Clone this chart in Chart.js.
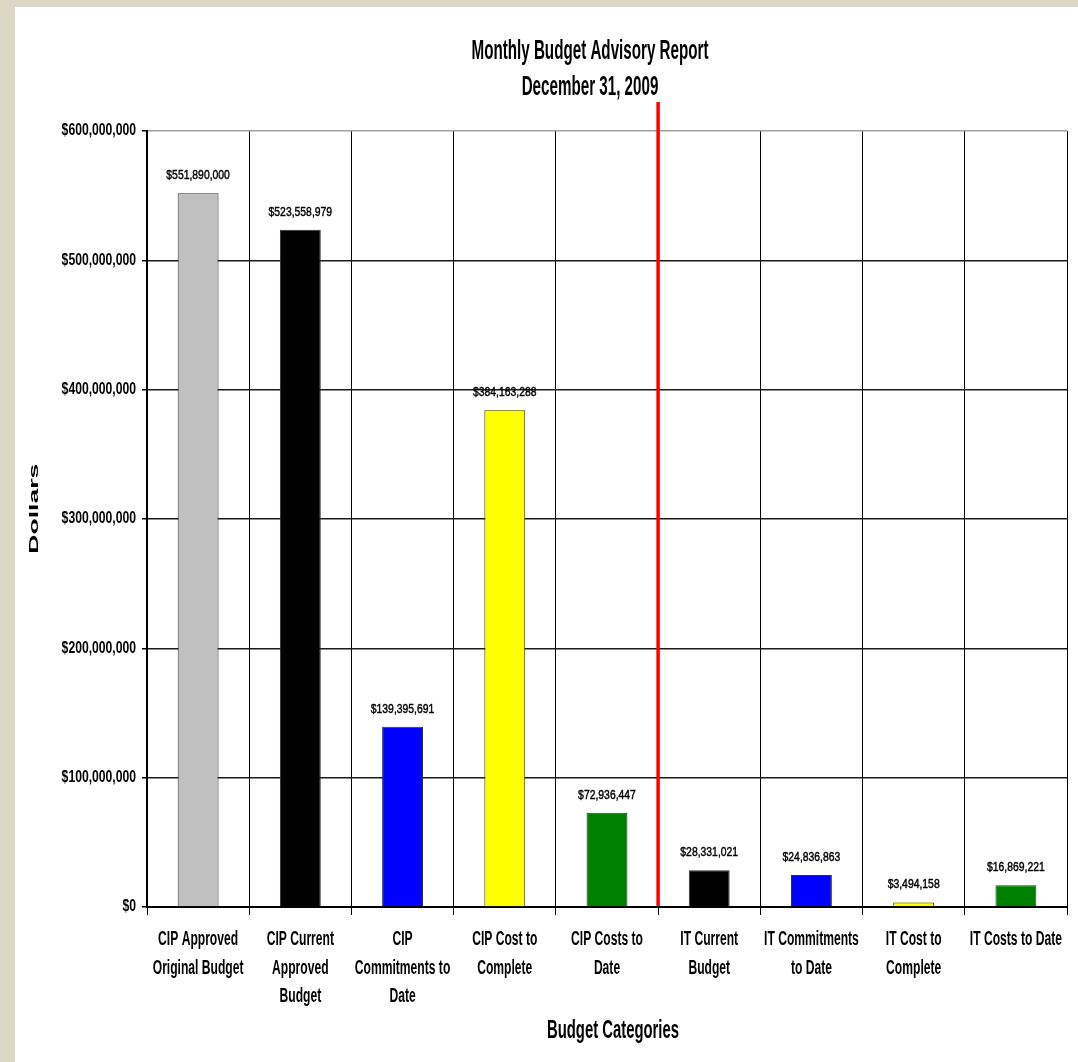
<!DOCTYPE html>
<html>
<head>
<meta charset="utf-8">
<script src="https://cdn.jsdelivr.net/npm/chart.js@4.4.0/dist/chart.umd.min.js"></script>
<style>
html,body{margin:0;padding:0;background:#dfd7c5;width:1078px;height:1062px;overflow:hidden}
#wrap{position:absolute;left:15px;top:7px;width:1063px;height:1055px;background:#ffffff}
</style>
</head>
<body>
<div id="wrap"><canvas id="c"></canvas></div>
<script>
// ---- data ----
const categories = [
  ["CIP Approved", "Original Budget"],
  ["CIP Current", "Approved", "Budget"],
  ["CIP", "Commitments to", "Date"],
  ["CIP Cost to", "Complete"],
  ["CIP Costs to", "Date"],
  ["IT Current", "Budget"],
  ["IT Commitments", "to Date"],
  ["IT Cost to", "Complete"],
  ["IT Costs to Date"]
];
const values = [551890000, 523558979, 139395691, 384163288, 72936447, 28331021, 24836863, 3494158, 16869221];
const barColors = ["#c0c0c0", "#000000", "#0000ff", "#ffff00", "#008000", "#000000", "#0000ff", "#ffff00", "#008000"];
const yTickValues = [0, 100000000, 200000000, 300000000, 400000000, 500000000, 600000000];
const chartTitle = ["Monthly Budget Advisory Report", "December 31, 2009"];
const xAxisTitle = "Budget Categories";
const yAxisTitle = "Dollars";
const dividerAfterIndex = 4;

// ---- helpers ----
const FAMILY = '"Liberation Sans", Arial, sans-serif';
const money = v => '$' + v.toLocaleString('en-US');

function wrapLabels(scale, sx) {
  if (scale.__wrapped) return;
  const orig = scale.drawLabels;
  scale.drawLabels = function (area) {
    const ctx = this.ctx;
    const of = CanvasRenderingContext2D.prototype.fillText;
    ctx.fillText = function (t, x, y, mw) {
      this.save();
      this.scale(sx, 1);
      if (mw === undefined) of.call(this, t, x / sx, y);
      else of.call(this, t, x / sx, y, mw / sx);
      this.restore();
    };
    try { orig.call(this, area); } finally { delete ctx.fillText; }
  };
  scale.__wrapped = true;
}

function fitText(ctx, text, x, y, font, sx, align, stroke) {
  ctx.save();
  ctx.font = font;
  ctx.translate(x, y);
  ctx.scale(sx, 1);
  ctx.textAlign = align || 'center';
  ctx.textBaseline = 'alphabetic';
  ctx.fillStyle = '#000';
  ctx.fillText(text, 0, 0);
  if (stroke) {
    ctx.strokeStyle = '#000';
    ctx.lineWidth = stroke;
    ctx.strokeText(text, 0, 0);
  }
  ctx.restore();
}

const decor = {
  id: 'decor',
  beforeDraw(chart) {
    wrapLabels(chart.scales.x, 0.605);
    wrapLabels(chart.scales.y, 0.76);
  },
  afterDraw(chart) {
    const ctx = chart.ctx;
    const xs = chart.scales.x, ys = chart.scales.y;
    // divider
    const xDiv = (xs.getPixelForValue(dividerAfterIndex) + xs.getPixelForValue(dividerAfterIndex + 1)) / 2;
    ctx.save();
    ctx.strokeStyle = '#ff0000';
    ctx.lineWidth = 3.5;
    ctx.beginPath();
    ctx.moveTo(xDiv, 95);
    ctx.lineTo(xDiv, ys.getPixelForValue(0) - 1);
    ctx.stroke();
    ctx.restore();

    // data labels
    const meta = chart.getDatasetMeta(0);
    meta.data.forEach((bar, i) => {
      fitText(ctx, money(values[i]), bar.x, bar.y - 14, 'normal 13.5px ' + FAMILY, 0.77, 'center', 0.45);
    });

    // chart title
    ctx.save();
    ctx.font = 'bold 27px ' + FAMILY;
    const tw = ctx.measureText(chartTitle[0]).width;
    ctx.restore();
    const tsx = 237 / tw;
    fitText(ctx, chartTitle[0], 575, 52, 'bold 27px ' + FAMILY, tsx);
    fitText(ctx, chartTitle[1], 575, 88, 'bold 27px ' + FAMILY, tsx);

    // x axis title
    ctx.save();
    ctx.font = 'bold 25px ' + FAMILY;
    const xw = ctx.measureText(xAxisTitle).width;
    ctx.restore();
    fitText(ctx, xAxisTitle, 598, 1031, 'bold 25px ' + FAMILY, 132 / xw);

    // y axis title
    ctx.save();
    ctx.font = 'bold 13px ' + FAMILY;
    const yw = ctx.measureText(yAxisTitle).width;
    ctx.translate(23.3, 501.7);
    ctx.rotate(-Math.PI / 2);
    ctx.scale(90 / yw, 1);
    ctx.textAlign = 'center';
    ctx.textBaseline = 'alphabetic';
    ctx.fillStyle = '#000';
    ctx.fillText(yAxisTitle, 0, 0);
    ctx.restore();
  }
};

new Chart(document.getElementById('c'), {
  type: 'bar',
  data: {
    labels: categories,
    datasets: [{
      data: values,
      backgroundColor: barColors,
      borderColor: '#303030',
      borderWidth: 1,
      barPercentage: 0.4,
      categoryPercentage: 1.0
    }]
  },
  options: {
    responsive: true,
    maintainAspectRatio: false,
    animation: false,
    devicePixelRatio: 1,
    layout: { autoPadding: false, padding: { top: 124, right: 11, left: 0, bottom: 0 } },
    plugins: { legend: { display: false }, tooltip: { enabled: false }, title: { display: false } },
    scales: {
      x: {
        afterFit(s) { s.height = 155; s.paddingLeft = 0; s.paddingRight = 0; },
        grid: {
          offset: true,
          color: c => (c.index === categories.length ? '#a0a0a0' : '#000000'),
          lineWidth: 1,
          tickLength: 8,
          tickColor: '#000000'
        },
        border: { display: true, color: '#000000', width: 2 },
        ticks: {
          autoSkip: false, maxRotation: 0, minRotation: 0,
          padding: 10.5,
          color: '#000000',
          font: { family: FAMILY, size: 20, weight: 'bold', lineHeight: 1.425 }
        }
      },
      y: {
        min: 0, max: 600000000,
        afterFit(s) { s.width = 132; s.paddingTop = 0; s.paddingBottom = 0; },
        afterBuildTicks(s) { s.ticks = yTickValues.map(v => ({ value: v })); },
        grid: {
          color: c => (c.tick && c.tick.value === 600000000 ? '#a0a0a0' : '#1a1a1a'),
          lineWidth: 1.5,
          tickLength: 5,
          tickColor: '#000000'
        },
        border: { display: true, color: '#000000', width: 2 },
        ticks: {
          padding: 6,
          color: '#000000',
          font: { family: FAMILY, size: 16, weight: 'bold' },
          callback: v => money(v)
        }
      }
    }
  },
  plugins: [decor]
});
</script>
</body>
</html>
